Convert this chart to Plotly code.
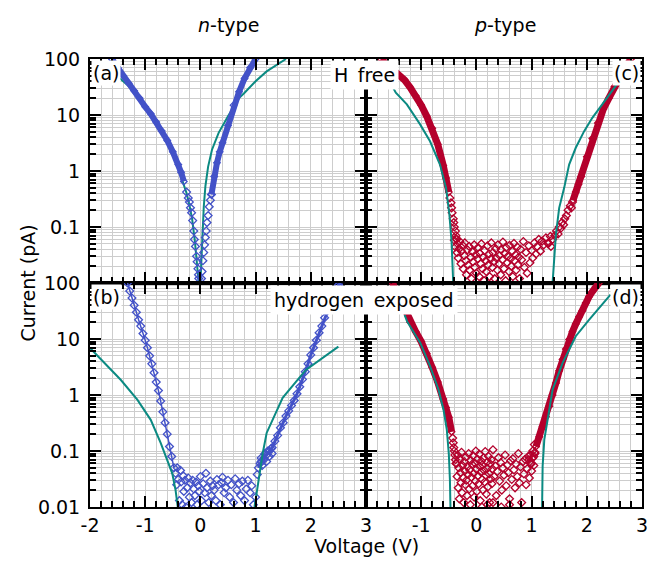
import plotly.graph_objects as go

# ---------------- data ----------------
# panel (a): n-type, H free
a_band_left_V = [-1.6, -1.5, -1.4, -1.3, -1.2, -1.1, -1.0, -0.9, -0.8, -0.7, -0.6, -0.5, -0.4, -0.35, -0.3]
a_band_left_I = [98, 70, 50, 37, 27, 20, 14, 10.5, 7.5, 5.2, 3.5, 2.2, 1.3, 0.95, 0.65]
a_tail_left_V = [-0.25, -0.22, -0.2, -0.18, -0.16, -0.14, -0.12, -0.11, -0.09, -0.07, -0.06, -0.045, -0.035, -0.03]
a_tail_left_I = [0.42, 0.33, 0.28, 0.22, 0.18, 0.13, 0.085, 0.06, 0.045, 0.03, 0.024, 0.018, 0.014, 0.012]
a_tail_right_V = [0.02, 0.03, 0.045, 0.06, 0.075, 0.09, 0.105, 0.12, 0.14, 0.16, 0.18, 0.2]
a_tail_right_I = [0.012, 0.016, 0.025, 0.035, 0.048, 0.065, 0.085, 0.12, 0.16, 0.23, 0.3, 0.38]
a_band_right_V = [0.2, 0.25, 0.3, 0.35, 0.4, 0.5, 0.6, 0.7, 0.8, 0.9, 1.0]
a_band_right_I = [0.38, 0.8, 1.4, 2.2, 3.2, 6.5, 15, 26, 45, 70, 100]
a_fit_left_V = [-1.6, -1.45, -1.3, -1.15, -1.0, -0.85, -0.7, -0.6, -0.5, -0.4, -0.3, -0.25, -0.2, -0.15, -0.1, -0.07, -0.05, -0.03]
a_fit_left_I = [60, 45, 33, 22, 13.5, 8.5, 4.8, 3.0, 1.96, 1.1, 0.57, 0.4, 0.25, 0.14, 0.056, 0.028, 0.016, 0.01]
a_fit_right_V = [0.0, 0.02, 0.043, 0.061, 0.091, 0.14, 0.21, 0.33, 0.5, 0.6, 0.7, 0.8, 1.0, 1.2, 1.4, 1.55]
a_fit_right_I = [0.01, 0.03, 0.08, 0.23, 0.54, 1.2, 2.4, 4.8, 9.5, 14, 20, 25, 40, 60, 82, 100]

# panel (b): n-type, hydrogen exposed
b_band_left_V = [-1.32, -1.28, -1.24, -1.2, -1.16, -1.12, -1.08, -1.04, -1.0, -0.96, -0.92,
                 -0.88, -0.84, -0.8, -0.76, -0.72, -0.68, -0.64, -0.6, -0.56, -0.52, -0.48]
b_band_left_I = [100, 72, 54, 40, 30, 22, 17, 12.5, 9.5, 7.0, 5.0,
                 3.6, 2.5, 1.7, 1.2, 0.78, 0.5, 0.32, 0.2, 0.12, 0.08, 0.05]
b_band_right_V = [1.05, 1.1, 1.15, 1.2, 1.25, 1.3, 1.35, 1.4, 1.45, 1.5, 1.55, 1.6, 1.65, 1.7, 1.75, 1.8,
                  1.85, 1.9, 1.95, 2.0, 2.05, 2.1, 2.15, 2.2, 2.25, 2.3, 2.35, 2.4, 2.45, 2.5, 2.53]
b_band_right_I = [0.05, 0.065, 0.075, 0.085, 0.1, 0.115, 0.15, 0.19, 0.26, 0.32, 0.42, 0.52, 0.65, 0.8, 1.05, 1.4,
                  1.9, 2.6, 3.6, 5.2, 7.0, 9.5, 12.9, 17, 24, 32, 42, 55, 72, 92, 100]
b_scatter_V = [-0.45, -0.43, -0.42, -0.40, -0.38, -0.36, -0.35, -0.33, -0.31, -0.30,
               -0.28, -0.26, -0.24, -0.22, -0.20, -0.18, -0.16, -0.14, -0.12, -0.10,
               -0.08, -0.06, -0.04, -0.02, 0.00, 0.02, 0.05, 0.08, 0.10, 0.12,
               0.15, 0.18, 0.20, 0.22, 0.25, 0.28, 0.30, 0.33, 0.36, 0.38,
               0.40, 0.43, 0.46, 0.50, 0.53, 0.56, 0.60, 0.63, 0.66, 0.70,
               0.73, 0.76, 0.80, 0.83, 0.86, 0.90, 0.93, 0.96, 1.00, 1.03,
               1.08, 1.10, 1.12, 1.15, 1.17, 1.20, 1.22, 1.25, 1.28, 1.30]
b_scatter_I = [0.040, 0.025, 0.050, 0.031, 0.013, 0.045, 0.028, 0.011, 0.036, 0.019,
               0.030, 0.010, 0.022, 0.033, 0.015, 0.027, 0.012, 0.030, 0.021, 0.016,
               0.028, 0.011, 0.024, 0.019, 0.035, 0.013, 0.026, 0.018, 0.040, 0.022,
               0.012, 0.029, 0.016, 0.024, 0.020, 0.013, 0.031, 0.025, 0.011, 0.027,
               0.034, 0.018, 0.022, 0.030, 0.015, 0.025, 0.012, 0.032, 0.020, 0.026,
               0.016, 0.029, 0.013, 0.021, 0.030, 0.018, 0.024, 0.011, 0.015, 0.038,
               0.060, 0.075, 0.055, 0.070, 0.090, 0.065, 0.100, 0.080, 0.110, 0.090]
b_fit_left_V = [-2.0, -1.74, -1.44, -1.14, -0.9, -0.72, -0.6, -0.51, -0.45, -0.41]
b_fit_left_I = [6.9, 3.7, 1.85, 0.82, 0.36, 0.14, 0.07, 0.04, 0.02, 0.01]
b_fit_right_V = [0.98, 1.07, 1.13, 1.2, 1.49, 1.91, 2.5]
b_fit_right_I = [0.01, 0.041, 0.092, 0.21, 0.89, 2.8, 7.3]

# panel (c): p-type, H free
c_band_left_V = [-1.73, -1.6, -1.5, -1.4, -1.3, -1.2, -1.1, -1.0, -0.9, -0.8, -0.7, -0.6, -0.55, -0.5]
c_band_left_I = [100, 78, 62, 51, 42, 31, 22, 15, 9.5, 5.8, 3.0, 1.25, 0.75, 0.42]
c_tail_left_V = [-0.48, -0.46, -0.45, -0.44, -0.42, -0.41, -0.4, -0.38, -0.37, -0.36]
c_tail_left_I = [0.33, 0.27, 0.22, 0.18, 0.14, 0.12, 0.1, 0.085, 0.07, 0.06]
c_tail_right_V = [1.3, 1.35, 1.38, 1.42, 1.45, 1.48, 1.5, 1.53, 1.55, 1.58, 1.6, 1.63, 1.66, 1.7, 1.72, 1.74]
c_tail_right_I = [0.05, 0.045, 0.06, 0.07, 0.085, 0.075, 0.1, 0.095, 0.12, 0.11, 0.14, 0.16, 0.2, 0.24, 0.22, 0.28]
c_band_right_V = [1.75, 1.8, 1.85, 1.9, 2.0, 2.1, 2.2, 2.3, 2.4, 2.5, 2.6, 2.7, 2.8]
c_band_right_I = [0.3, 0.42, 0.58, 0.8, 1.8, 3.8, 7.2, 12.8, 20, 32, 50, 72, 100]
c_scatter_V = [-0.40, -0.38, -0.37, -0.35, -0.34, -0.33, -0.31, -0.30, -0.28, -0.27,
               -0.25, -0.24, -0.22, -0.21, -0.19, -0.18, -0.16, -0.15, -0.13, -0.12,
               -0.10, -0.09, -0.07, -0.06, -0.04, -0.03, -0.01, 0.00, 0.02, 0.03,
               0.05, 0.06, 0.08, 0.09, 0.11, 0.12, 0.14, 0.15, 0.17, 0.18,
               0.20, 0.21, 0.23, 0.24, 0.26, 0.27, 0.29, 0.30, 0.32, 0.33,
               0.35, 0.36, 0.38, 0.39, 0.41, 0.42, 0.44, 0.45, 0.47, 0.48,
               0.50, 0.51, 0.53, 0.54, 0.56, 0.57, 0.59, 0.60, 0.62, 0.63,
               0.65, 0.66, 0.68, 0.69, 0.71, 0.72, 0.74, 0.75, 0.77, 0.78,
               0.80, 0.82, 0.85, 0.87, 0.90, 0.92, 0.95, 0.97, 1.00, 1.02,
               1.05, 1.08, 1.10, 1.13, 1.16, 1.19, 1.22, 1.26, 1.30, 1.34]
c_scatter_I = [0.058, 0.044, 0.062, 0.035, 0.050, 0.028, 0.041, 0.055, 0.022, 0.037,
               0.047, 0.018, 0.031, 0.052, 0.025, 0.014, 0.039, 0.021, 0.045, 0.017,
               0.029, 0.012, 0.036, 0.024, 0.048, 0.019, 0.032, 0.015, 0.027, 0.043,
               0.013, 0.034, 0.022, 0.050, 0.018, 0.029, 0.011, 0.038, 0.025, 0.016,
               0.046, 0.021, 0.033, 0.013, 0.027, 0.052, 0.019, 0.035, 0.024, 0.012,
               0.041, 0.028, 0.017, 0.048, 0.022, 0.031, 0.014, 0.039, 0.026, 0.054,
               0.018, 0.034, 0.011, 0.043, 0.023, 0.030, 0.016, 0.047, 0.027, 0.020,
               0.037, 0.013, 0.051, 0.025, 0.032, 0.017, 0.044, 0.021, 0.029, 0.012,
               0.040, 0.026, 0.055, 0.019, 0.035, 0.015, 0.046, 0.023, 0.038, 0.028,
               0.052, 0.033, 0.045, 0.060, 0.037, 0.056, 0.048, 0.064, 0.052, 0.068]
c_fit_left_V = [-1.6, -1.46, -1.26, -1.02, -0.84, -0.66, -0.55, -0.49, -0.45, -0.43, -0.42]
c_fit_left_I = [45, 25, 15.5, 6.8, 3.4, 1.3, 0.5, 0.17, 0.056, 0.02, 0.01]
c_fit_right_V = [1.38, 1.41, 1.44, 1.50, 1.59, 1.68, 1.80, 1.95, 2.10, 2.28, 2.46, 2.55]
c_fit_right_I = [0.01, 0.032, 0.074, 0.22, 0.5, 1.3, 2.6, 5.1, 8.9, 15.5, 27, 36]

# panel (d): p-type, hydrogen exposed
d_band_left_V = [-1.52, -1.45, -1.4, -1.3, -1.2, -1.1, -1.0, -0.9, -0.8, -0.7, -0.6, -0.55, -0.5, -0.45]
d_band_left_I = [100, 70, 55, 34, 20, 13.5, 9.0, 5.5, 3.1, 1.7, 0.85, 0.6, 0.4, 0.22]
d_tail_left_V = [-0.43, -0.42, -0.41, -0.4, -0.39, -0.38, -0.37]
d_tail_left_I = [0.17, 0.14, 0.115, 0.1, 0.085, 0.07, 0.06]
d_tail_right_V = [0.95, 0.98, 1.0, 1.02, 1.04, 1.05, 1.06]
d_tail_right_I = [0.07, 0.085, 0.06, 0.1, 0.08, 0.13, 0.095]
d_band_right_V = [1.08, 1.14, 1.2, 1.26, 1.32, 1.38, 1.44, 1.5, 1.56, 1.62,
                  1.68, 1.74, 1.8, 1.86, 1.92, 1.98, 2.04, 2.1, 2.16, 2.22]
d_band_right_I = [0.12, 0.18, 0.27, 0.41, 0.63, 1.0, 1.64, 2.7, 4.3, 6.6,
                  9.8, 13.5, 18.5, 25, 32, 44, 57, 70, 85, 100]
d_scatter_V = [-0.36, -0.35, -0.34, -0.33, -0.32, -0.31, -0.30, -0.29, -0.28, -0.27,
               -0.26, -0.25, -0.24, -0.23, -0.22, -0.21, -0.20, -0.19, -0.18, -0.17,
               -0.16, -0.15, -0.14, -0.13, -0.12, -0.11, -0.10, -0.09, -0.08, -0.07,
               -0.06, -0.05, -0.04, -0.03, -0.02, -0.01, 0.00, 0.01, 0.02, 0.03,
               0.04, 0.05, 0.06, 0.07, 0.08, 0.09, 0.10, 0.11, 0.12, 0.13,
               0.14, 0.15, 0.16, 0.17, 0.18, 0.19, 0.20, 0.21, 0.22, 0.23,
               0.24, 0.25, 0.26, 0.27, 0.28, 0.29, 0.30, 0.32, 0.34, 0.36,
               0.38, 0.40, 0.42, 0.44, 0.46, 0.48, 0.50, 0.52, 0.54, 0.56,
               0.58, 0.60, 0.62, 0.64, 0.66, 0.68, 0.70, 0.72, 0.74, 0.76,
               0.78, 0.80, 0.82, 0.84, 0.86, 0.88, 0.90, 0.92, 0.94, 0.96,
               0.98, 1.00, 1.02, 1.04, 1.06, 0.10, 0.20, 0.30, 0.45, 0.60]
d_scatter_I = [0.060, 0.035, 0.085, 0.022, 0.050, 0.014, 0.070, 0.041, 0.027, 0.095,
               0.018, 0.055, 0.033, 0.012, 0.065, 0.044, 0.025, 0.078, 0.030, 0.016,
               0.052, 0.038, 0.090, 0.021, 0.046, 0.011, 0.068, 0.034, 0.058, 0.024,
               0.082, 0.040, 0.015, 0.061, 0.029, 0.100, 0.047, 0.019, 0.072, 0.036,
               0.026, 0.088, 0.053, 0.013, 0.042, 0.066, 0.031, 0.057, 0.020, 0.075,
               0.045, 0.028, 0.098, 0.037, 0.017, 0.063, 0.049, 0.023, 0.080, 0.039,
               0.012, 0.059, 0.032, 0.070, 0.026, 0.048, 0.105, 0.035, 0.054, 0.016,
               0.043, 0.076, 0.029, 0.062, 0.020, 0.050, 0.037, 0.085, 0.024, 0.056,
               0.041, 0.014, 0.067, 0.031, 0.073, 0.046, 0.022, 0.058, 0.035, 0.090,
               0.027, 0.052, 0.012, 0.064, 0.039, 0.071, 0.025, 0.048, 0.080, 0.033,
               0.060, 0.044, 0.075, 0.055, 0.090, 0.010, 0.011, 0.012, 0.010, 0.011]
d_fit_left_V = [-1.3, -1.256, -1.016, -0.836, -0.686, -0.596, -0.536, -0.50, -0.48, -0.47]
d_fit_left_I = [27, 20.6, 8.5, 3.2, 1.24, 0.55, 0.24, 0.09, 0.031, 0.01]
d_fit_right_V = [1.19, 1.2, 1.23, 1.29, 1.38, 1.56, 1.80, 2.04, 2.43]
d_fit_right_I = [0.01, 0.054, 0.16, 0.36, 1.24, 3.7, 11.2, 22, 62]

x_tick_vals = [-2, -1, 0, 1, 2, 3]
x_tick_text_left = ["-2", "-1", "0", "1", "2", "3"]
x_tick_text_right = ["", "-1", "0", "1", "2", "3"]
y_tick_vals_top = [0.1, 1, 10, 100]
y_tick_text_top = ["0.1", "1", "10", "100"]
y_tick_vals_bottom = [0.01, 0.1, 1, 10, 100]
y_tick_text_bottom = ["0.01", "0.1", "1", "10", "100"]

# ---------------- style ----------------
FONT = "DejaVu Sans"
BLUE = "#4352c8"
RED = "#b4002c"
TEAL = "#0b8a82"
GRID = "#cdcdcd"
FS = 19

fig = go.Figure()


def exp_band(V, I, color, xa, ya, lw, ms=5):
    fig.add_trace(go.Scatter(x=V, y=I, xaxis=xa, yaxis=ya, mode="lines+markers",
                             line=dict(color=color, width=lw),
                             marker=dict(symbol="diamond-open", size=ms, color=color, line=dict(width=1.3, color=color)),
                             showlegend=False))


def exp_pts(V, I, color, xa, ya):
    fig.add_trace(go.Scatter(x=V, y=I, xaxis=xa, yaxis=ya, mode="markers",
                             marker=dict(symbol="diamond-open", size=6, color=color, line=dict(width=1.3, color=color)),
                             showlegend=False))


def fit_line(V, I, xa, ya):
    fig.add_trace(go.Scatter(x=V, y=I, xaxis=xa, yaxis=ya, mode="lines",
                             line=dict(color=TEAL, width=2), showlegend=False))


# (a)
fit_line(a_fit_left_V, a_fit_left_I, "x", "y")
fit_line(a_fit_right_V, a_fit_right_I, "x", "y")
exp_band(a_band_left_V, a_band_left_I, BLUE, "x", "y", 6)
exp_pts(a_tail_left_V, a_tail_left_I, BLUE, "x", "y")
exp_pts(a_tail_right_V, a_tail_right_I, BLUE, "x", "y")
exp_band(a_band_right_V, a_band_right_I, BLUE, "x", "y", 6)
# (c)
exp_band(c_band_left_V, c_band_left_I, RED, "x2", "y2", 7)
exp_pts(c_tail_left_V, c_tail_left_I, RED, "x2", "y2")
exp_pts(c_scatter_V, c_scatter_I, RED, "x2", "y2")
exp_pts(c_tail_right_V, c_tail_right_I, RED, "x2", "y2")
exp_band(c_band_right_V, c_band_right_I, RED, "x2", "y2", 7)
fit_line(c_fit_left_V, c_fit_left_I, "x2", "y2")
fit_line(c_fit_right_V, c_fit_right_I, "x2", "y2")
# (b)
exp_band(b_band_left_V, b_band_left_I, BLUE, "x3", "y3", 1.5, 6)
exp_pts(b_scatter_V, b_scatter_I, BLUE, "x3", "y3")
exp_band(b_band_right_V, b_band_right_I, BLUE, "x3", "y3", 3, 6)
fit_line(b_fit_left_V, b_fit_left_I, "x3", "y3")
fit_line(b_fit_right_V, b_fit_right_I, "x3", "y3")
# (d)
exp_band(d_band_left_V, d_band_left_I, RED, "x4", "y4", 7)
exp_pts(d_tail_left_V, d_tail_left_I, RED, "x4", "y4")
exp_pts(d_scatter_V, d_scatter_I, RED, "x4", "y4")
exp_pts(d_tail_right_V, d_tail_right_I, RED, "x4", "y4")
exp_band(d_band_right_V, d_band_right_I, RED, "x4", "y4", 7)
fit_line(d_fit_left_V, d_fit_left_I, "x4", "y4")
fit_line(d_fit_right_V, d_fit_right_I, "x4", "y4")

log_minor = [k * 10 ** e for e in (-2, -1, 0, 1) for k in range(2, 10)]


def xaxis(domain, anchor, show, text):
    return dict(domain=domain, anchor=anchor, range=[-2, 3], tickmode="array",
                tickvals=x_tick_vals, ticktext=text, showticklabels=show,
                ticks="inside", ticklen=11, tickwidth=2, tickcolor="black",
                showline=True, linewidth=2, linecolor="black", mirror="ticks",
                showgrid=True, gridcolor=GRID, gridwidth=1, zeroline=False,
                ticklabelstandoff=0,
                tickfont=dict(family=FONT, size=FS, color="black"),
                minor=dict(dtick=0.2, tick0=0, ticks="inside", ticklen=6, tickwidth=1.5,
                           tickcolor="black", showgrid=True, gridcolor=GRID, gridwidth=1))


def yaxis(domain, anchor, show, vals, text):
    return dict(domain=domain, anchor=anchor, type="log", range=[-2, 2], tickmode="array",
                tickvals=vals, ticktext=text, showticklabels=show,
                ticks="inside", ticklen=11, tickwidth=2, tickcolor="black",
                showline=True, linewidth=2, linecolor="black", mirror="ticks",
                showgrid=True, gridcolor=GRID, gridwidth=1, zeroline=False,
                ticklabelstandoff=4,
                tickfont=dict(family=FONT, size=FS, color="black"),
                minor=dict(tickmode="array", tickvals=log_minor, ticks="inside", ticklen=6, tickwidth=1.5,
                           tickcolor="black", showgrid=True, gridcolor=GRID, gridwidth=1))


L = [0.0, 0.5]
R = [0.5, 1.0]
T = [0.5, 1.0]
B = [0.0, 0.5]
fig.update_layout(
    width=656, height=561,
    margin=dict(l=90, r=8, t=59, b=54),
    paper_bgcolor="white", plot_bgcolor="white",
    font=dict(family=FONT, size=FS, color="black"),
    xaxis=xaxis(L, "y", False, x_tick_text_left),
    yaxis=yaxis(T, "x", True, y_tick_vals_top, y_tick_text_top),
    xaxis2=xaxis(R, "y2", False, x_tick_text_right),
    yaxis2=yaxis(T, "x2", False, y_tick_vals_top, y_tick_text_top),
    xaxis3=xaxis(L, "y3", True, x_tick_text_left),
    yaxis3=yaxis(B, "x3", True, y_tick_vals_bottom, y_tick_text_bottom),
    xaxis4=xaxis(R, "y4", True, x_tick_text_right),
    yaxis4=yaxis(B, "x4", False, y_tick_vals_bottom, y_tick_text_bottom),
)

f = dict(family=FONT, size=FS, color="black")
ann = [
    dict(text="<i>n</i>-type", x=0.251, y=1.077, xref="paper", yref="paper", xanchor="center", yanchor="middle",
         showarrow=False, font=f),
    dict(text="<i>p</i>-type", x=0.751, y=1.077, xref="paper", yref="paper", xanchor="center", yanchor="middle",
         showarrow=False, font=f),
    dict(text="Voltage (V)", x=0.5, y=-0.086, xref="paper", yref="paper", xanchor="center", yanchor="middle",
         showarrow=False, font=f),
    dict(text="Current (pA)", x=-0.113, y=0.5, xref="paper", yref="paper", xanchor="center", yanchor="middle",
         showarrow=False, font=f, textangle=-90),
    dict(text="(a)", x=0.002, y=0.998, xref="paper", yref="paper", xanchor="left", yanchor="top",
         showarrow=False, font=f, bgcolor="white", borderpad=1),
    dict(text="(c)", x=0.998, y=0.998, xref="paper", yref="paper", xanchor="right", yanchor="top",
         showarrow=False, font=f, bgcolor="white", borderpad=1),
    dict(text="(b)", x=0.002, y=0.498, xref="paper", yref="paper", xanchor="left", yanchor="top",
         showarrow=False, font=f, bgcolor="white", borderpad=1),
    dict(text="(d)", x=0.998, y=0.498, xref="paper", yref="paper", xanchor="right", yanchor="top",
         showarrow=False, font=f, bgcolor="white", borderpad=1),
    dict(text="H\u2002free", x=0.497, y=0.998, xref="paper", yref="paper", xanchor="center", yanchor="top",
         showarrow=False, font=f, bgcolor="white", borderpad=3),
    dict(text="hydrogen\u2002exposed", x=0.497, y=0.496, xref="paper", yref="paper", xanchor="center", yanchor="top",
         showarrow=False, font=f, bgcolor="white", borderpad=3),
]
fig.update_layout(annotations=ann)

fig.write_html("out.html")
